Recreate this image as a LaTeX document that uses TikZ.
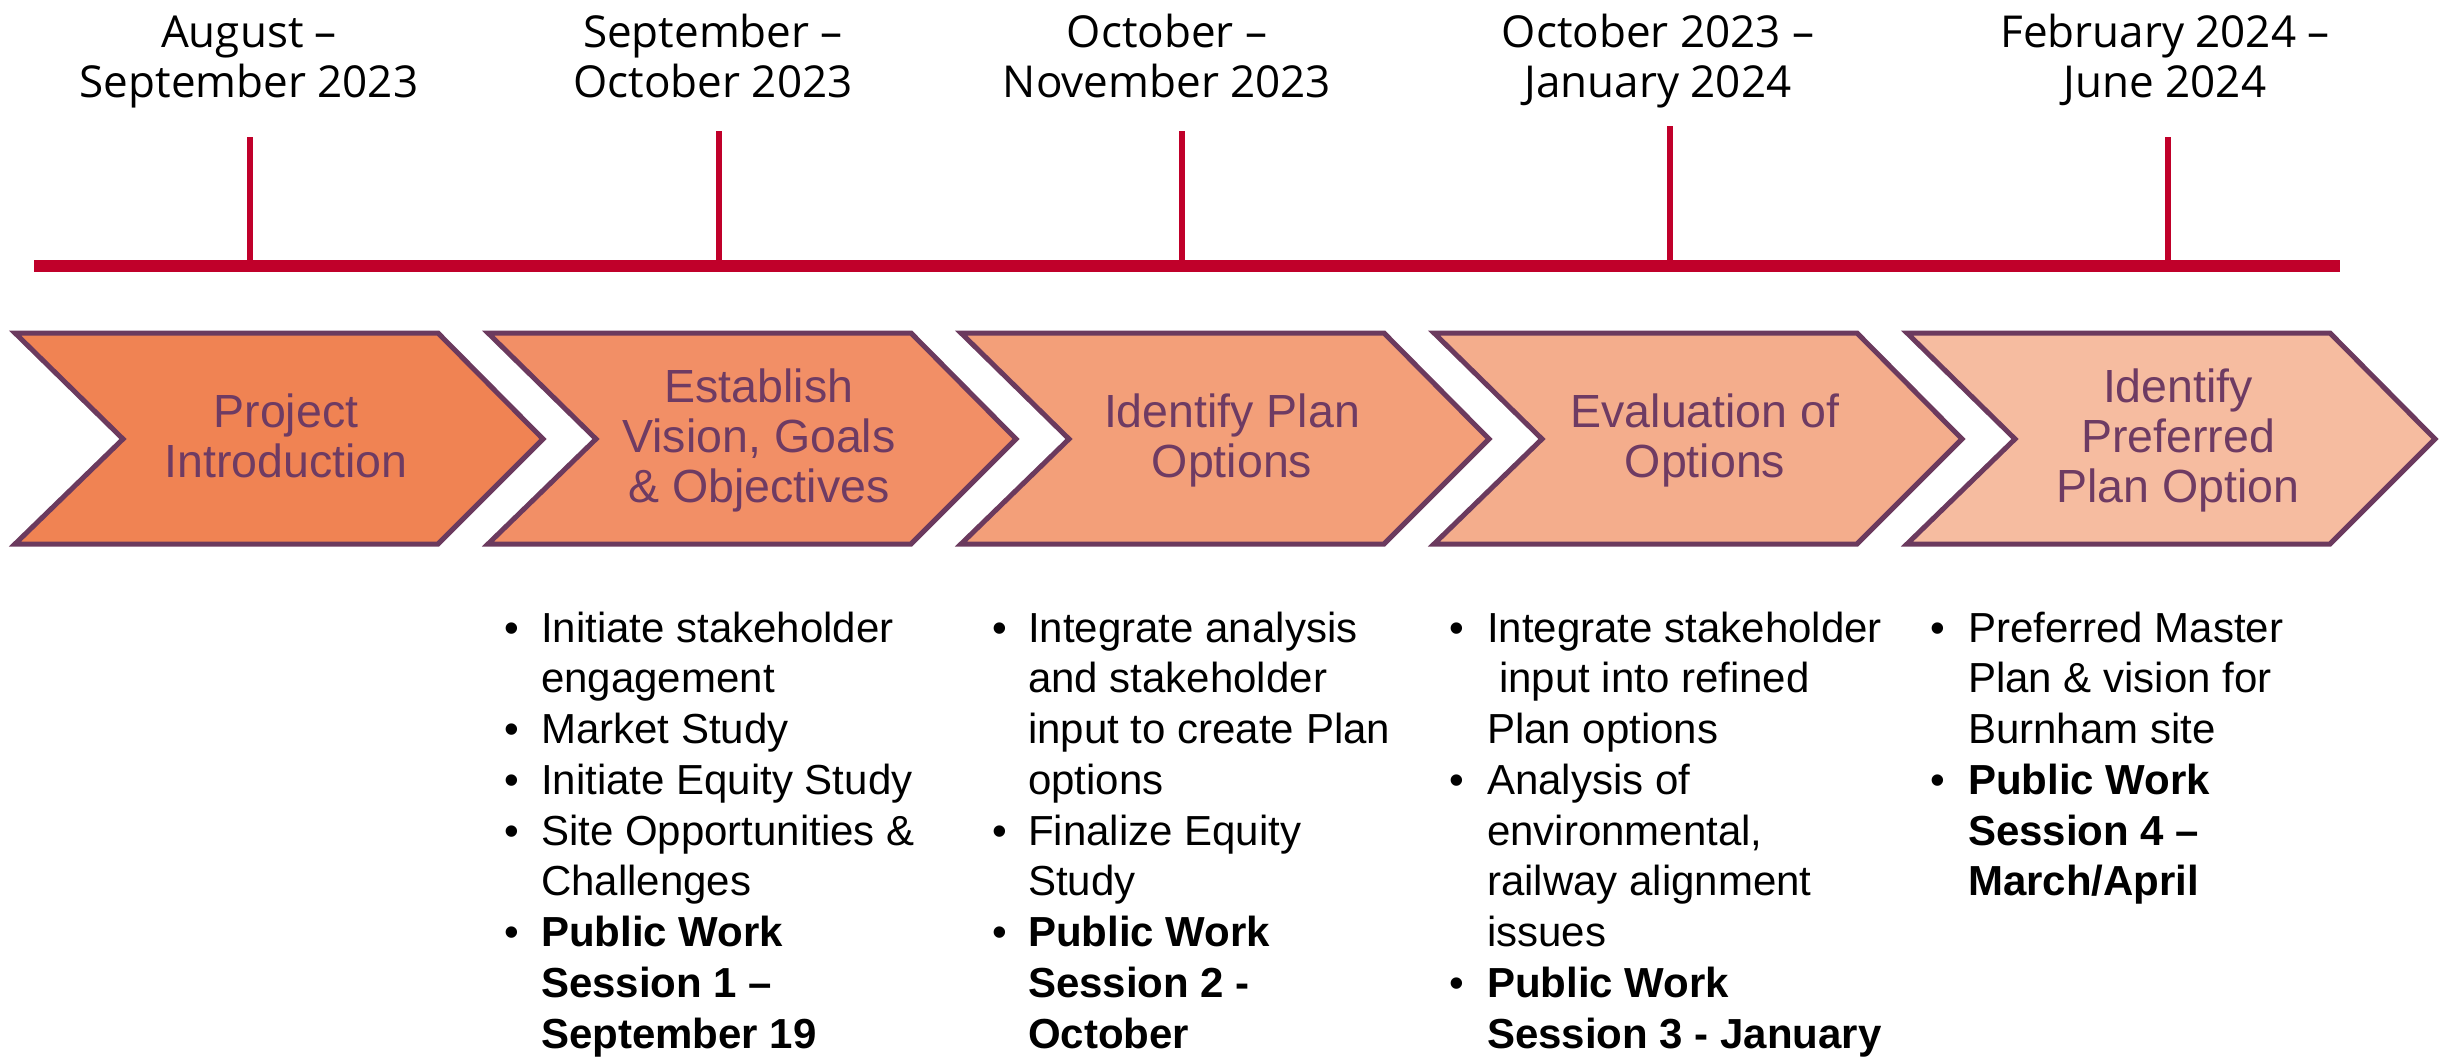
\documentclass[tikz,border=0pt]{standalone}
\usepackage{fontspec}
\setmainfont{Liberation Sans}
\newfontfamily\datefont{Open Sans}
\definecolor{barred}{HTML}{C0002A}
\definecolor{chevline}{HTML}{6B3A5E}
\definecolor{chevtext}{HTML}{6E3B63}
\definecolor{chA}{HTML}{F08353}
\definecolor{chB}{HTML}{F28F66}
\definecolor{chC}{HTML}{F39F79}
\definecolor{chD}{HTML}{F4AD8C}
\definecolor{chE}{HTML}{F6BCA0}
\tikzset{
  datelbl/.style={anchor=base,inner sep=0pt,font=\datefont\fontsize{44}{49}\selectfont,text=black},
  chevbox/.style={draw=chevline,line width=5pt,line join=miter},
  chevlbl/.style={anchor=base,inner sep=0pt,font=\fontsize{46.5}{50}\selectfont,text=chevtext},
  btext/.style={anchor=base west,inner sep=0pt,font=\fontsize{42}{51}\selectfont,text=black},
  bbold/.style={btext,font=\bfseries\fontsize{42}{51}\selectfont},
  bdot/.style={anchor=base,inner sep=0pt,font=\fontsize{42}{51}\selectfont,text=black},
  tickline/.style={draw=barred,line width=5.5pt},
}
\newcommand{\rowy}[1]{\fpeval{642+50.75*#1}}
\begin{document}
\begin{tikzpicture}[x=1pt,y=-1pt]
\useasboundingbox (0,0) rectangle (2446,1059);
% timeline bar and ticks
\fill[barred] (34,260) rectangle (2340,272);
\coordinate (t1b) at (250,261); \coordinate (t1t) at (250,137);
\coordinate (t2b) at (719,261); \coordinate (t2t) at (719,131);
\coordinate (t3b) at (1182,261); \coordinate (t3t) at (1182,131);
\coordinate (t4b) at (1670,261); \coordinate (t4t) at (1670,126);
\coordinate (t5b) at (2168,261); \coordinate (t5t) at (2168,137);
\foreach \k in {1,...,5} {\draw[tickline] (t\k b) -- (t\k t);}
% date labels
\node[datelbl] (d1a) at (249,47.5) {August –};
\node[datelbl] (d1b) at (249,98) {September 2023};
\node[datelbl] (d2a) at (713,47.5) {September –};
\node[datelbl] (d2b) at (713,98) {October 2023};
\node[datelbl] (d3a) at (1167,47.5) {October –};
\node[datelbl] (d3b) at (1167,98) {November 2023};
\node[datelbl] (d4a) at (1658,47.5) {October 2023 –};
\node[datelbl] (d4b) at (1658,98) {January 2024};
\node[datelbl] (d5a) at (2165,47.5) {February 2024 –};
\node[datelbl] (d5b) at (2165,98) {June 2024};
% chevrons
\foreach \i/\c in {0/chA,1/chB,2/chC,3/chD,4/chE} {
  \pgfmathsetmacro\L{15+473*\i}
  \draw[chevbox,fill=\c] (\L,333) -- ({\L+423},333) -- ({\L+528},439) -- ({\L+423},544) -- (\L,544) -- ({\L+108},439) -- cycle;
}
\node[chevlbl] (c1a) at (286,427) {Project};
\node[chevlbl] (c1b) at (286,477) {Introduction};
\node[chevlbl] (c2a) at (759,402) {Establish};
\node[chevlbl] (c2b) at (759,452) {Vision, Goals};
\node[chevlbl] (c2c) at (759,502) {\& Objectives};
\node[chevlbl] (c3a) at (1232,427) {Identify Plan};
\node[chevlbl] (c3b) at (1232,477) {Options};
\node[chevlbl] (c4a) at (1705,427) {Evaluation of};
\node[chevlbl] (c4b) at (1705,477) {Options};
\node[chevlbl] (c5a) at (2178,402) {Identify};
\node[chevlbl] (c5b) at (2178,452) {Preferred};
\node[chevlbl] (c5c) at (2178,502) {Plan Option};
% column 1
\node[bdot] (b1a) at (512,\rowy{0}) {•};
\node[btext] (l1a) at (541,\rowy{0}) {Initiate stakeholder};
\node[btext] (l1b) at (541,\rowy{1}) {engagement};
\node[bdot] (b1b) at (512,\rowy{2}) {•};
\node[btext] (l1c) at (541,\rowy{2}) {Market Study};
\node[bdot] (b1c) at (512,\rowy{3}) {•};
\node[btext] (l1d) at (541,\rowy{3}) {Initiate Equity Study};
\node[bdot] (b1d) at (512,\rowy{4}) {•};
\node[btext] (l1e) at (541,\rowy{4}) {Site Opportunities \&};
\node[btext] (l1f) at (541,\rowy{5}) {Challenges};
\node[bdot] (b1e) at (512,\rowy{6}) {•};
\node[bbold] (l1g) at (541,\rowy{6}) {Public Work};
\node[bbold] (l1h) at (541,\rowy{7}) {Session 1 –};
\node[bbold] (l1i) at (541,\rowy{8}) {September 19};
% column 2
\node[bdot] (b2a) at (1000,\rowy{0}) {•};
\node[btext] (l2a) at (1028,\rowy{0}) {Integrate analysis};
\node[btext] (l2b) at (1028,\rowy{1}) {and stakeholder};
\node[btext] (l2c) at (1028,\rowy{2}) {input to create Plan};
\node[btext] (l2d) at (1028,\rowy{3}) {options};
\node[bdot] (b2b) at (1000,\rowy{4}) {•};
\node[btext] (l2e) at (1028,\rowy{4}) {Finalize Equity};
\node[btext] (l2f) at (1028,\rowy{5}) {Study};
\node[bdot] (b2c) at (1000,\rowy{6}) {•};
\node[bbold] (l2g) at (1028,\rowy{6}) {Public Work};
\node[bbold] (l2h) at (1028,\rowy{7}) {Session 2 -};
\node[bbold] (l2i) at (1028,\rowy{8}) {October};
% column 3
\node[bdot] (b3a) at (1457,\rowy{0}) {•};
\node[btext] (l3a) at (1487,\rowy{0}) {Integrate stakeholder};
\node[btext] (l3b) at (1499,\rowy{1}) {input into refined};
\node[btext] (l3c) at (1487,\rowy{2}) {Plan options};
\node[bdot] (b3b) at (1457,\rowy{3}) {•};
\node[btext] (l3d) at (1487,\rowy{3}) {Analysis of};
\node[btext] (l3e) at (1487,\rowy{4}) {environmental,};
\node[btext] (l3f) at (1487,\rowy{5}) {railway alignment};
\node[btext] (l3g) at (1487,\rowy{6}) {issues};
\node[bdot] (b3c) at (1457,\rowy{7}) {•};
\node[bbold] (l3h) at (1487,\rowy{7}) {Public Work};
\node[bbold] (l3i) at (1487,\rowy{8}) {Session 3 - January};
% column 4
\node[bdot] (b4a) at (1938,\rowy{0}) {•};
\node[btext] (l4a) at (1968,\rowy{0}) {Preferred Master};
\node[btext] (l4b) at (1968,\rowy{1}) {Plan \& vision for};
\node[btext] (l4c) at (1968,\rowy{2}) {Burnham site};
\node[bdot] (b4b) at (1938,\rowy{3}) {•};
\node[bbold] (l4d) at (1968,\rowy{3}) {Public Work};
\node[bbold] (l4e) at (1968,\rowy{4}) {Session 4 –};
\node[bbold] (l4f) at (1968,\rowy{5}) {March/April};
\end{tikzpicture}
\end{document}
